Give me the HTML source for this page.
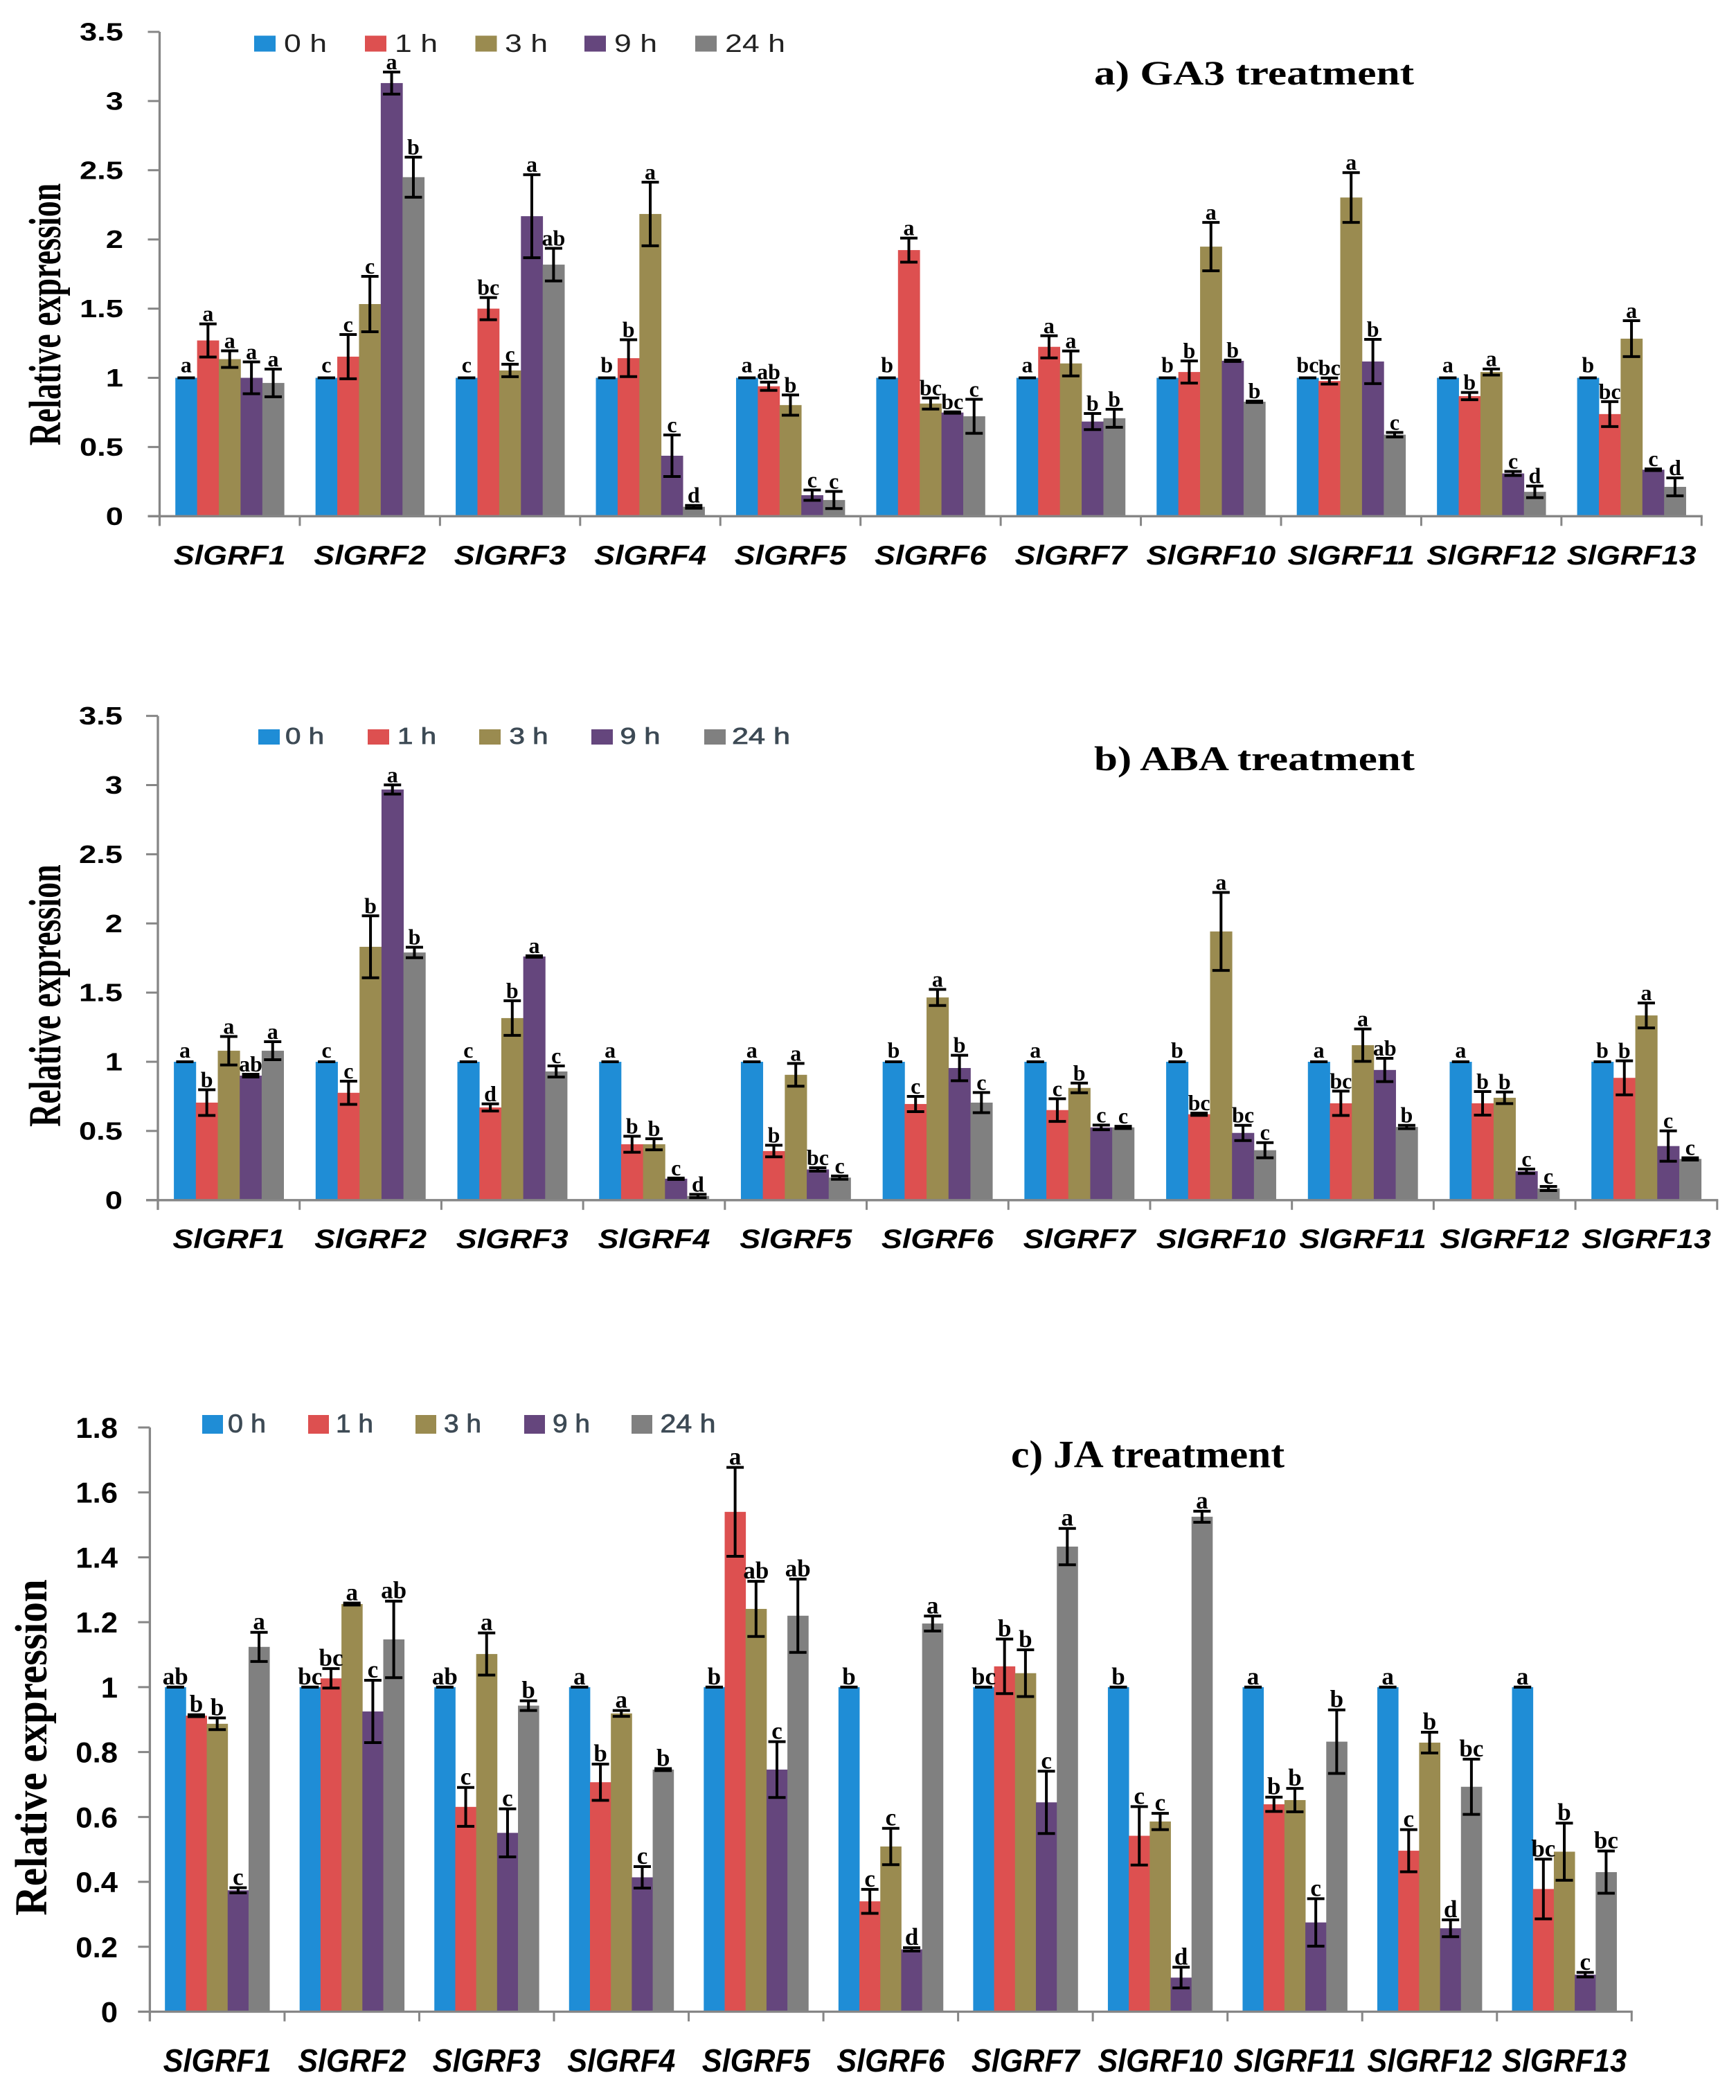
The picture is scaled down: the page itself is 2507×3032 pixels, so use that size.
<!DOCTYPE html>
<html lang="en">
<head>
<meta charset="utf-8">
<title>Relative expression of SlGRF genes</title>
<style>
html,body{margin:0;padding:0;background:#fff;}
svg{display:block;}
text{white-space:pre;}
</style>
</head>
<body>
<svg id="figure" xmlns="http://www.w3.org/2000/svg" width="2507" height="3032" viewBox="0 0 2507 3032"></svg>
<script>
const categories = ['SlGRF1','SlGRF2','SlGRF3','SlGRF4','SlGRF5','SlGRF6','SlGRF7','SlGRF10','SlGRF11','SlGRF12','SlGRF13'];
const seriesLabels = ['0 h','1 h','3 h','9 h','24 h'];
const ga3TickLabels = ['0','0.5','1','1.5','2','2.5','3','3.5'];
const abaTickLabels = ['0','0.5','1','1.5','2','2.5','3','3.5'];
const jaTickLabels = ['0','0.2','0.4','0.6','0.8','1','1.2','1.4','1.6','1.8'];

const ga3Mean0h = [1,1,1,1,1,1,1,1,1,1,1];
const ga3Mean1h = [1.27,1.153,1.5,1.142,0.939,1.923,1.224,1.042,0.977,0.868,0.738];
const ga3Mean3h = [1.135,1.533,1.053,2.184,0.803,0.814,1.104,1.948,2.303,1.042,1.283];
const ga3Mean9h = [1.0,3.13,2.168,0.437,0.152,0.749,0.684,1.123,1.118,0.309,0.336];
const ga3Mean24h = [0.963,2.45,1.818,0.068,0.117,0.722,0.708,0.827,0.589,0.176,0.212];
const ga3Err0h = [0,0,0,0,0,0,0,0,0,0,0];
const ga3Err1h = [0.12,0.16,0.08,0.133,0.03,0.087,0.08,0.08,0.022,0.026,0.09];
const ga3Err3h = [0.06,0.2,0.045,0.23,0.073,0.04,0.09,0.175,0.18,0.022,0.13];
const ga3Err9h = [0.115,0.08,0.3,0.15,0.037,0.005,0.058,0.005,0.16,0.015,0.006];
const ga3Err24h = [0.1,0.145,0.118,0.01,0.062,0.123,0.065,0.005,0.016,0.042,0.065];
const ga3Sig0h = ['a','c','c','b','a','b','a','b','bc','a','b'];
const ga3Sig1h = ['a','c','bc','b','ab','a','a','b','bc','b','bc'];
const ga3Sig3h = ['a','c','c','a','b','bc','a','a','a','a','a'];
const ga3Sig9h = ['a','a','a','c','c','bc','b','b','b','c','c'];
const ga3Sig24h = ['a','b','ab','d','c','c','b','b','c','d','d'];

const abaMean0h = [1,1,1,1,1,1,1,1,1,1,1];
const abaMean1h = [0.705,0.776,0.67,0.404,0.355,0.695,0.651,0.621,0.7,0.7,0.884];
const abaMean3h = [1.08,1.831,1.316,0.404,0.906,1.465,0.811,1.942,1.12,0.74,1.335];
const abaMean9h = [0.9,2.968,1.761,0.155,0.222,0.955,0.526,0.486,0.941,0.209,0.391];
const abaMean24h = [1.08,1.79,0.93,0.03,0.163,0.705,0.526,0.361,0.529,0.084,0.298];
const abaErr0h = [0,0,0,0,0,0,0,0,0,0,0];
const abaErr1h = [0.093,0.084,0.026,0.058,0.042,0.055,0.082,0.008,0.088,0.085,0.123];
const abaErr3h = [0.103,0.224,0.125,0.04,0.082,0.058,0.035,0.282,0.117,0.042,0.09];
const abaErr9h = [0.01,0.033,0.005,0.005,0.012,0.092,0.017,0.055,0.084,0.016,0.11];
const abaErr24h = [0.065,0.038,0.04,0.012,0.012,0.073,0.008,0.055,0.012,0.015,0.008];
const abaSig0h = ['a','c','c','a','a','b','a','b','a','a','b'];
const abaSig1h = ['b','c','d','b','b','c','c','bc','bc','b','b'];
const abaSig3h = ['a','b','b','b','a','a','b','a','a','b','a'];
const abaSig9h = ['ab','a','a','c','bc','b','c','bc','ab','c','c'];
const abaSig24h = ['a','b','c','d','c','c','c','c','b','c','c'];

const jaMean0h = [1,1,1,1,1,1,1,1,1,1,1];
const jaMean1h = [0.912,1.027,0.631,0.707,1.54,0.34,1.064,0.542,0.639,0.496,0.378];
const jaMean3h = [0.887,1.256,1.102,0.919,1.241,0.509,1.043,0.586,0.652,0.829,0.493];
const jaMean9h = [0.374,0.925,0.551,0.414,0.746,0.192,0.645,0.105,0.275,0.257,0.114];
const jaMean24h = [1.124,1.147,0.943,0.746,1.22,1.196,1.433,1.525,0.832,0.693,0.43];
const jaErr0h = [0,0,0,0,0,0,0,0,0,0,0];
const jaErr1h = [0.003,0.03,0.06,0.056,0.137,0.037,0.084,0.09,0.022,0.065,0.092];
const jaErr3h = [0.018,0.003,0.065,0.009,0.085,0.056,0.072,0.025,0.036,0.032,0.088];
const jaErr9h = [0.008,0.096,0.074,0.033,0.086,0.005,0.096,0.032,0.073,0.026,0.007];
const jaErr24h = [0.045,0.118,0.015,0.003,0.113,0.023,0.056,0.017,0.098,0.085,0.065];
const jaSig0h = ['ab','bc','ab','a','b','b','bc','b','a','a','a'];
const jaSig1h = ['b','bc','c','b','a','c','b','c','b','c','bc'];
const jaSig3h = ['b','a','a','a','ab','c','b','c','b','b','b'];
const jaSig9h = ['c','c','c','c','c','d','c','d','c','d','c'];
const jaSig24h = ['a','ab','b','b','ab','a','a','a','b','bc','bc'];

const seriesColors = ['#1f8dd6','#dd5050','#9a8b50','#65467d','#808080'];
const AXIS = '#868686';
const SANS = '"Liberation Sans", sans-serif';
const SERIF = '"Liberation Serif", serif';
const NS = 'http://www.w3.org/2000/svg';
const figure = document.getElementById('figure');

function make(parent, tag, attrs, content) {
  const el = document.createElementNS(NS, tag);
  for (const k in attrs) el.setAttribute(k, attrs[k]);
  if (content !== undefined) el.textContent = content;
  parent.appendChild(el);
  return el;
}

function scaledText(parent, x, y, sx, sy, str, attrs) {
  const a = Object.assign({transform: 'translate(' + x + ' ' + y + ') scale(' + sx + ' ' + sy + ')'}, attrs);
  return make(parent, 'text', a, str);
}

function drawPanel(p) {
  const g = make(figure, 'g', {});
  
  

  const step = p.plotW / categories.length;
  const yMax = parseFloat(p.tickLabels[p.tickLabels.length - 1]);
  const xBand = i => p.x0 + i * step;
  const yScale = v => p.yBase - (v / yMax) * (p.yBase - p.yTop);
  const pad = (step - 5 * p.barW) / 2;

  // bars
  p.means.forEach((series, s) => {
    series.forEach((v, i) => {
      const top = yScale(v);
      const bar = make(g, 'rect', {x: xBand(i) + pad + s * p.barW, y: top, width: p.barW + 0.4, height: p.yBase - top, fill: seriesColors[s]});
      
      
    });
  });

  // axes
  const yAxis = make(g, 'line', {x1: p.x0, x2: p.x0, y1: p.yTop, y2: p.yBase + 14, stroke: AXIS, 'stroke-width': 3.3});
  
  
  const xAxis = make(g, 'line', {x1: p.x0 - 17, x2: p.x0 + p.plotW + 1.5, y1: p.yBase, y2: p.yBase, stroke: AXIS, 'stroke-width': 3.3});
  
  

  // y ticks
  p.tickLabels.forEach(lab => {
    const y = yScale(parseFloat(lab));
    const tick = make(g, 'line', {x1: p.x0 - 17, x2: p.x0, y1: y, y2: y, stroke: AXIS, 'stroke-width': 3});
    
    
    const t = scaledText(g, p.tickRight, y + p.tickCap / 2, p.tickScale, 1, lab, {'font-family': SANS, 'font-weight': 'bold', 'font-size': p.tickFont, 'text-anchor': 'end', fill: '#000'});
    
    
  });

  // x ticks and category labels
  for (let i = 0; i <= categories.length; i++) {
    const tick = make(g, 'line', {x1: xBand(i), x2: xBand(i), y1: p.yBase, y2: p.yBase + 14, stroke: AXIS, 'stroke-width': 3});
    
    
  }
  categories.forEach((c, i) => {
    const t = scaledText(g, xBand(i) + step / 2, p.catBase, p.catScale, 1, c, {'font-family': SANS, 'font-weight': 'bold', 'font-style': 'italic', 'font-size': p.catFont, 'text-anchor': 'middle', fill: '#000'});
    
    
  });

  // error bars and significance letters
  p.means.forEach((series, s) => {
    series.forEach((v, i) => {
      const cx = xBand(i) + pad + (s + 0.5) * p.barW;
      const hi = yScale(v + p.errs[s][i]);
      const lo = yScale(v - p.errs[s][i]);
      const eg = make(g, 'g', {stroke: '#000', 'stroke-width': 4});
      
      
      make(eg, 'line', {x1: cx, x2: cx, y1: hi, y2: lo});
      make(eg, 'line', {x1: cx - 12.5, x2: cx + 12.5, y1: hi, y2: hi});
      make(eg, 'line', {x1: cx - 12.5, x2: cx + 12.5, y1: lo, y2: lo});
      const gap = p.errs[s][i] === 0 ? p.zeroGap : 4;
      const t = make(g, 'text', {x: cx, y: hi - gap, 'font-family': SERIF, 'font-weight': 'bold', 'font-size': p.sigFont, 'text-anchor': 'middle', fill: '#000'}, p.sigs[s][i]);
      
      
    });
  });

  // y axis title
  const yTitle = make(g, 'text', {transform: 'translate(' + p.yTitleX + ' ' + p.yTitleY + ') rotate(-90) scale(1 ' + p.yTitleStretch + ')', 'font-family': SERIF, 'font-weight': 'bold', 'font-size': p.yTitleFont, 'text-anchor': 'middle', fill: '#000'}, 'Relative expression');
  
  

  // chart title
  const title = make(g, 'text', {x: p.titleX, y: p.titleY, textLength: p.titleW, lengthAdjust: 'spacingAndGlyphs', 'font-family': SERIF, 'font-weight': 'bold', 'font-size': p.titleFont, fill: '#000'}, p.title);
  
  

  // legend
  seriesLabels.forEach((lab, s) => {
    const lg = make(g, 'g', {});
    
    
    make(lg, 'rect', {x: p.legend.swatchX[s], y: p.legend.swatchY, width: p.legend.swatchW, height: p.legend.swatchH, fill: seriesColors[s]});
    make(lg, 'text', {x: p.legend.textX[s], y: p.legend.textY, textLength: p.legend.textW[s], lengthAdjust: 'spacingAndGlyphs', 'font-family': SANS, 'font-size': p.legend.font, fill: p.legend.fill, stroke: p.legend.fill, 'stroke-width': p.legend.stroke}, lab);
  });
}

drawPanel({
  id: 'ga3', title: 'a) GA3 treatment', tickLabels: ga3TickLabels,
  means: [ga3Mean0h, ga3Mean1h, ga3Mean3h, ga3Mean9h, ga3Mean24h],
  errs: [ga3Err0h, ga3Err1h, ga3Err3h, ga3Err9h, ga3Err24h],
  sigs: [ga3Sig0h, ga3Sig1h, ga3Sig3h, ga3Sig9h, ga3Sig24h],
  x0: 230.5, plotW: 2226.8, yTop: 46, yBase: 745.3, barW: 31.4,
  tickRight: 178, tickFont: 36, tickCap: 25, tickScale: 1.26,
  catBase: 815, catFont: 39, catScale: 1.15, sigFont: 32, zeroGap: 8,
  yTitleX: 87, yTitleY: 454, yTitleFont: 46, yTitleStretch: 1.42,
  titleX: 1580, titleY: 122, titleW: 462, titleFont: 50,
  legend: {swatchX: [367,527,686.5,844,1004], swatchY: 51.5, swatchW: 31, swatchH: 23,
    textX: [410,570,729,887,1047], textY: 75, textW: [62,62,62,62,87], font: 36, fill: '#222', stroke: 0}
});

drawPanel({
  id: 'aba', title: 'b) ABA treatment', tickLabels: abaTickLabels,
  means: [abaMean0h, abaMean1h, abaMean3h, abaMean9h, abaMean24h],
  errs: [abaErr0h, abaErr1h, abaErr3h, abaErr9h, abaErr24h],
  sigs: [abaSig0h, abaSig1h, abaSig3h, abaSig9h, abaSig24h],
  x0: 228, plotW: 2251.8, yTop: 1033.6, yBase: 1732.8, barW: 31.7,
  tickRight: 177, tickFont: 36, tickCap: 25, tickScale: 1.26,
  catBase: 1802, catFont: 39, catScale: 1.15, sigFont: 32, zeroGap: 6,
  yTitleX: 87, yTitleY: 1437.6, yTitleFont: 46, yTitleStretch: 1.42,
  titleX: 1580, titleY: 1112, titleW: 463, titleFont: 50,
  legend: {swatchX: [373,531,692,854,1017], swatchY: 1053, swatchW: 31, swatchH: 22,
    textX: [412,574,735.5,895.5,1057], textY: 1074, textW: [56,56,56,58,84], font: 33, fill: '#3d4a55', stroke: 0.8}
});

drawPanel({
  id: 'ja', title: 'c) JA treatment', tickLabels: jaTickLabels,
  means: [jaMean0h, jaMean1h, jaMean3h, jaMean9h, jaMean24h],
  errs: [jaErr0h, jaErr1h, jaErr3h, jaErr9h, jaErr24h],
  sigs: [jaSig0h, jaSig1h, jaSig3h, jaSig9h, jaSig24h],
  x0: 216.4, plotW: 2139.9, yTop: 2061, yBase: 2904.5, barW: 30.2,
  tickRight: 170, tickFont: 42, tickCap: 30, tickScale: 1.04,
  catBase: 2991, catFont: 46, catScale: 0.94, sigFont: 35, zeroGap: 4,
  yTitleX: 67, yTitleY: 2523, yTitleFont: 59, yTitleStretch: 1.12,
  titleX: 1460, titleY: 2118.5, titleW: 395, titleFont: 56,
  legend: {swatchX: [292,445,600,757,912], swatchY: 2043, swatchW: 30, swatchH: 27,
    textX: [329,485,641,798,953.5], textY: 2068, textW: [55,54,54,54,80], font: 37, fill: '#3d4a55', stroke: 0.8}
});
</script>
</body>
</html>
